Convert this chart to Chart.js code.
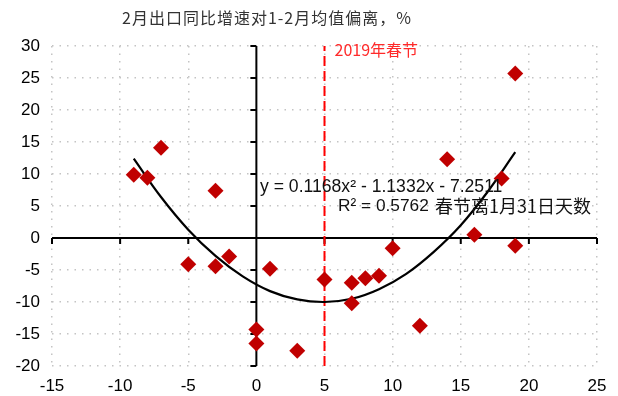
<!DOCTYPE html>
<html>
<head>
<meta charset="utf-8">
<script src="https://cdn.jsdelivr.net/npm/chart.js@4.4.0/dist/chart.umd.min.js"></script>
<style>
  html, body { margin: 0; padding: 0; background: #fff; }
  #wrap { width: 618px; height: 396px; }
</style>
</head>
<body>
<div id="wrap"><canvas id="chart"></canvas></div>
<script>
// days between spring festival and Jan 31 (x) vs Feb export growth deviation (y)
var daysX = [-9, -8, -7, -5, -3, -3, -2, 0, 0, 1, 3, 5, 7, 7, 8, 9, 10, 12, 14, 16, 18, 19, 19];
var deviationY = [9.9, 9.4, 14.1, -4.1, 7.4, -4.4, -2.9, -14.3, -16.5, -4.8, -17.6, -6.5, -7.0, -10.2, -6.3, -5.9, -1.6, -13.7, 12.3, 0.5, 9.3, 25.7, -1.2];

// fitted curve
var trendX = [-9, -7, -5, -3, -1, 1, 3, 5, 7, 9, 11, 13, 15, 17, 19];
var trendY = [12.4, 6.4, 1.3, -2.8, -6.0, -8.3, -9.6, -10.0, -9.5, -8.0, -5.6, -2.2, 2.0, 7.3, 13.4];

// 2019 spring festival marker
var festivalX = [5, 5];
var festivalY = [-20, 30];

var titleText = "2月出口同比增速对1-2月均值偏离，%";
var festivalLabel = "2019年春节";
var equationText = "y = 0.1168x² - 1.1332x - 7.2511";
var r2Text = "R² = 0.5762";
var xTitle = "春节离1月31日天数";

function toPoints(xs, ys) {
  return xs.map(function (x, i) { return { x: x, y: ys[i] }; });
}

// zero axes with tick marks, drawn under the marks
var zeroAxes = {
  id: 'zeroAxes',
  beforeDatasetsDraw: function (chart) {
    var ctx = chart.ctx, xs = chart.scales.x, ys = chart.scales.y;
    var x0 = xs.getPixelForValue(0), y0 = ys.getPixelForValue(0);
    ctx.save();
    ctx.strokeStyle = '#000';
    ctx.lineWidth = 2;
    ctx.beginPath();
    ctx.moveTo(xs.left, y0); ctx.lineTo(xs.right, y0);
    ctx.moveTo(x0, ys.top); ctx.lineTo(x0, ys.bottom);
    xs.ticks.forEach(function (t) {
      var p = xs.getPixelForValue(t.value);
      ctx.moveTo(p, y0); ctx.lineTo(p, y0 + 6);
    });
    ys.ticks.forEach(function (t) {
      var p = ys.getPixelForValue(t.value);
      ctx.moveTo(x0, p); ctx.lineTo(x0 - 6, p);
    });
    ctx.stroke();
    ctx.restore();
  }
};

// title and text labels
var labels = {
  id: 'labels',
  afterDraw: function (chart) {
    var ctx = chart.ctx, xs = chart.scales.x;
    ctx.save();
    ctx.textBaseline = 'middle';
    ctx.fillStyle = '#333';
    ctx.font = '16px "Noto Sans CJK SC"';
    ctx.letterSpacing = '1px';
    ctx.fillText(titleText, 122, 18);
    ctx.letterSpacing = '0px';

    ctx.fillStyle = '#ff2a2a';
    ctx.font = '16px "Noto Sans CJK SC"';
    ctx.fillText(festivalLabel, xs.getPixelForValue(5) + 10, 50);

    ctx.fillStyle = '#111';
    ctx.font = '17.6px "Liberation Sans", Arial';
    ctx.fillText(equationText, 260, 187);
    ctx.font = '17.3px "Liberation Sans", Arial';
    ctx.fillText(r2Text, 338, 206);
    ctx.textAlign = 'right';
    ctx.font = '18px "Noto Sans CJK SC"';
    ctx.fillText(xTitle, 591, 206);
    ctx.restore();
  }
};

var gridColor = function (c) {
  return c.tick && c.tick.value === 0 ? 'rgba(0,0,0,0)' : '#c4c4c4';
};

new Chart(document.getElementById('chart'), {
  type: 'scatter',
  data: {
    datasets: [
      {
        label: 'deviation',
        data: toPoints(daysX, deviationY),
        pointStyle: 'rectRot',
        pointRadius: 8,
        pointHoverRadius: 8,
        backgroundColor: '#c00000',
        borderColor: '#c00000',
        borderWidth: 0,
        order: 0
      },
      {
        type: 'line',
        label: 'trend',
        data: toPoints(trendX, trendY),
        borderColor: '#000',
        borderWidth: 2.2,
        pointRadius: 0,
        tension: 0.4,
        fill: false,
        order: 1
      },
      {
        type: 'line',
        label: 'festival',
        data: toPoints(festivalX, festivalY),
        borderColor: '#ff0000',
        borderWidth: 2,
        borderDash: [10, 5],
        pointRadius: 0,
        fill: false,
        order: 2
      }
    ]
  },
  options: {
    responsive: true,
    maintainAspectRatio: false,
    animation: false,
    layout: { padding: { top: 46, right: 21, left: 0, bottom: 0 } },
    plugins: {
      legend: { display: false },
      tooltip: { enabled: false },
      title: { display: false }
    },
    scales: {
      x: {
        type: 'linear',
        min: -15,
        max: 25,
        afterFit: function (s) { s.height = 30; },
        ticks: {
          stepSize: 5,
          padding: 10,
          color: '#000',
          maxRotation: 0,
          font: { family: '"Liberation Sans", Arial', size: 17 }
        },
        grid: { color: gridColor, lineWidth: 1.5, drawTicks: false },
        border: { display: false, dash: [1.5, 6] }
      },
      y: {
        type: 'linear',
        min: -20,
        max: 30,
        afterFit: function (s) { s.width = 52; },
        ticks: {
          stepSize: 5,
          padding: 12,
          color: '#000',
          font: { family: '"Liberation Sans", Arial', size: 17 }
        },
        grid: { color: gridColor, lineWidth: 1.5, drawTicks: false },
        border: { display: false, dash: [1.5, 6] }
      }
    }
  },
  plugins: [zeroAxes, labels]
});
</script>
</body>
</html>
